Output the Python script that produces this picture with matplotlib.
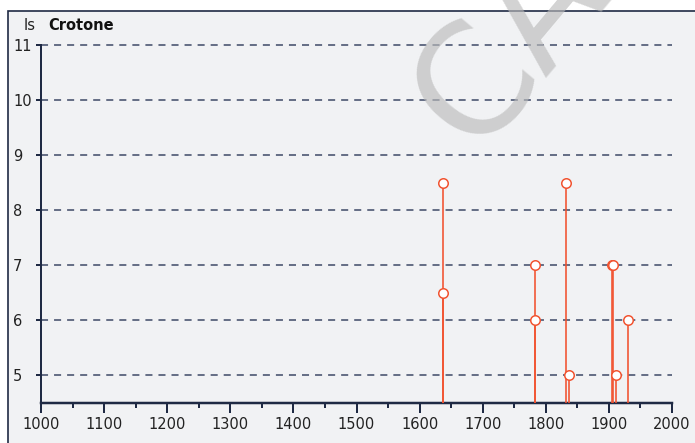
import matplotlib
matplotlib.use("Agg")
import matplotlib.pyplot as plt
from matplotlib.patches import Rectangle
from matplotlib.ticker import MultipleLocator

years = [1637, 1637, 1783, 1783, 1832, 1836, 1905, 1907, 1911, 1931]
intensity = [8.5, 6.5, 7, 6, 8.5, 5, 7, 7, 5, 6]
x_ticks = [1000, 1100, 1200, 1300, 1400, 1500, 1600, 1700, 1800, 1900, 2000]
y_ticks = [5, 6, 7, 8, 9, 10, 11]

W, H = 695, 443
plt.rcParams['font.family'] = ['DejaVu Sans']
fig = plt.figure(figsize=(W / 100, H / 100), dpi=100, facecolor="white")

bg = "#f1f2f4"
navy = "#1f2a44"
red = "#f1522f"
px = 72 / 100  # points per pixel

fig.patches.append(Rectangle((8 / W, -0.1), 1.2, 1 - 11 / H + 0.1, transform=fig.transFigure,
                             facecolor=bg, edgecolor=navy, linewidth=1.2, zorder=-10))

ax = fig.add_axes([41 / W, 1 - 403 / H, (672 - 41) / W, (403 - 45) / H])
ax.set_facecolor("none")
ax.set_xlim(1000, 2000)
ax.set_ylim(4.5, 11)

for s in ["top", "right"]:
    ax.spines[s].set_visible(False)
ax.spines["left"].set_color(navy)
ax.spines["left"].set_linewidth(2 * px)
ax.spines["bottom"].set_color(navy)
ax.spines["bottom"].set_linewidth(2.5 * px)

ax.set_xticks(x_ticks, labels=[str(v) for v in x_ticks])
ax.set_yticks(y_ticks, labels=[str(v) for v in y_ticks], ha="left")
ax.xaxis.set_minor_locator(MultipleLocator(50))
ax.tick_params(axis="x", which="major", length=10 * px, width=2 * px, color=navy, labelsize=10.5, pad=4 * px, labelcolor="#222222")
ax.tick_params(axis="x", which="minor", length=5 * px, width=2 * px, color=navy)
ax.tick_params(axis="y", which="major", length=5 * px, width=2 * px, color=navy, labelsize=10.5, pad=23 * px, labelcolor="#222222")

for yv in y_ticks:
    ax.axhline(yv, color="#3a4563", linewidth=1.5 * px, linestyle=(0, (4.7, 4)), zorder=1, clip_on=False)

ymin = ax.get_ylim()[0]
ax.vlines(years, ymin, intensity, colors=red, linewidth=1.6 * px, zorder=3)
ax.plot(years, intensity, linestyle="none", marker="o", markersize=9.5 * px,
        markerfacecolor="white", markeredgecolor=red, markeredgewidth=1.5 * px, zorder=4, clip_on=False)

fig.text(24 / W, 1 - 26 / H, "Is", fontsize=10.5, color="#222222", va="center", ha="left")
fig.text(48 / W, 1 - 26 / H, "Crotone", fontsize=10.5, fontweight="bold", color="#111111", va="center", ha="left")

fig.text(510 / W, 1 - 45 / H, "CA", fontsize=110, color="#bbbbbb", alpha=0.65,
         rotation=50, ha="center", va="center", zorder=10)

fig.savefig("out.png", dpi=100, facecolor="white")
